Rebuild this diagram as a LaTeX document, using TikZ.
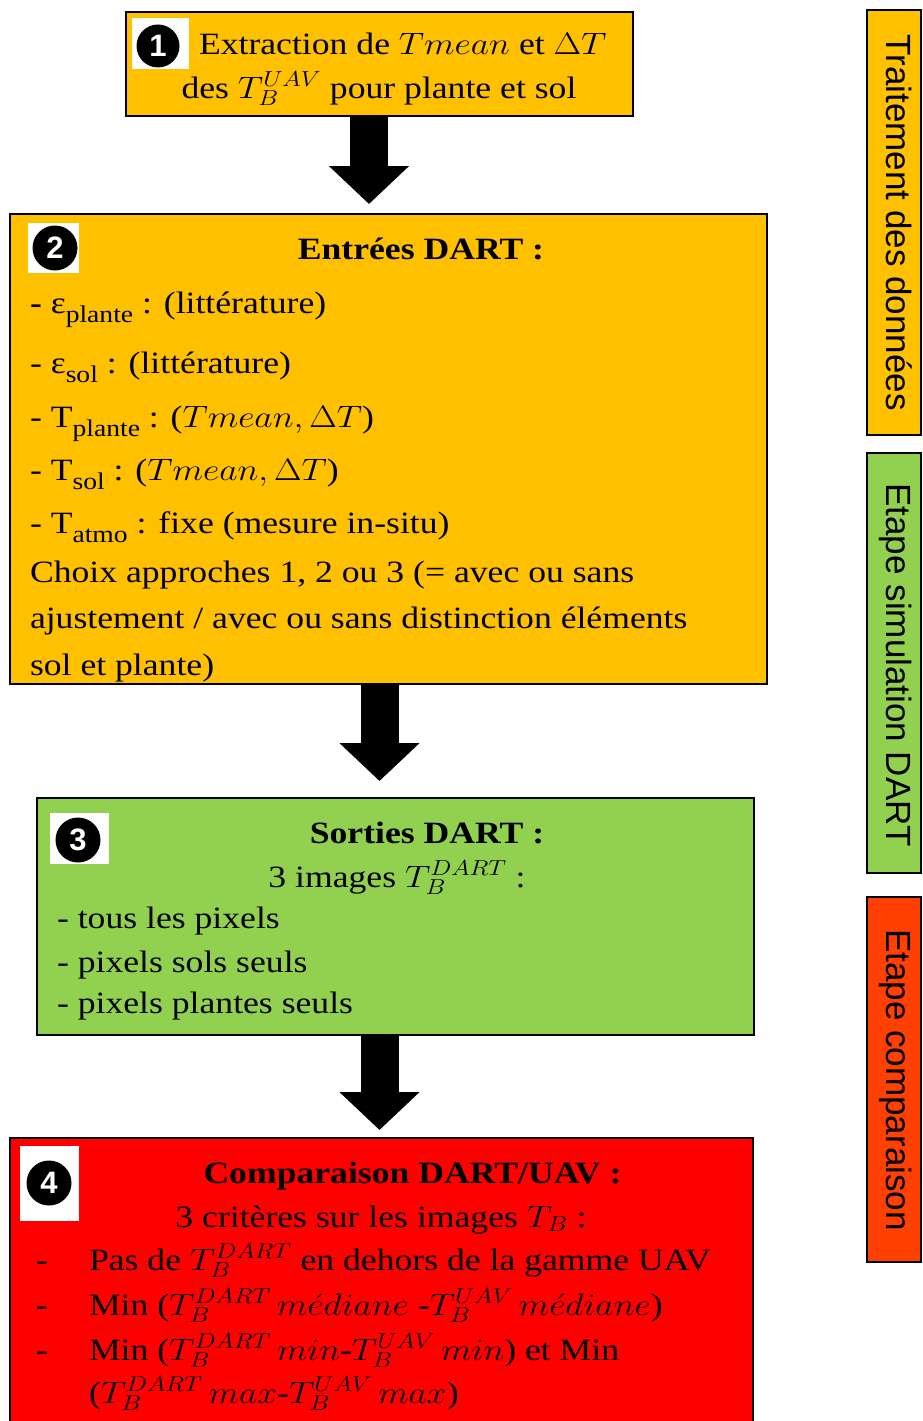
\RequirePackage{fix-cm}
\documentclass[tikz,border=0pt]{standalone}
\usepackage{fontspec}
\setmainfont{Liberation Serif}
\newfontfamily\sidefont{Liberation Sans}
\usepackage{graphicx}
\usetikzlibrary{arrows.meta}
\definecolor{cyellow}{HTML}{FFC000}
\definecolor{cgreen}{HTML}{92D050}
\definecolor{cred}{HTML}{FF0000}
\definecolor{corange}{HTML}{FF4000}
\newcommand\hsc[1]{\scalebox{1.15}[1]{#1}}
\newcommand\lowsub[1]{\raisebox{-0.3em}{\fontsize{24}{24}\selectfont #1}}
\begin{document}
\begin{tikzpicture}[x=1pt,y=-1pt,
  box/.style={draw=black, line width=2.5pt, inner sep=0pt, outer sep=0pt},
  sidebox/.style={draw=black, line width=1.8pt, inner sep=0pt, outer sep=0pt, minimum width=54pt},
  txt/.style={inner sep=0pt, outer sep=0pt, font=\fontsize{31}{37}\selectfont, text=black},
  lft/.style={txt, anchor=base west},
  ctr/.style={txt, anchor=base},
  sidetxt/.style={inner sep=0pt, font=\sidefont\fontsize{35}{40}\selectfont, rotate=-90, anchor=base},
  badgebg/.style={fill=white, inner sep=0pt, outer sep=0pt},
  badge/.style={circle, fill=black, inner sep=0pt, text=white, font=\sidefont\bfseries\fontsize{31}{31}\selectfont},
  bigarrow/.style={line width=38pt, -{Triangle[width=78pt,length=38pt]}}
]
\useasboundingbox (0,0) rectangle (923,1421);

% main boxes
\node[box, fill=cyellow, minimum width=507pt, minimum height=104pt] (b1) at (379.5,64) {};
\node[box, fill=cyellow, minimum width=757pt, minimum height=470pt] (b2) at (388.5,449) {};
\node[box, fill=cgreen, minimum width=717pt, minimum height=237pt] (b3) at (395.5,916.5) {};
\node[box, fill=cred, minimum width=743pt, minimum height=302pt] (b4) at (381.5,1289) {};

% arrows
\coordinate (a1) at (369,0);
\coordinate (a2) at (379.5,0);
\draw[bigarrow] (b1.south -| a1) -- ([yshift=10pt]b2.north -| a1);
\draw[bigarrow] (b2.south -| a2) -- ([yshift=17pt]b3.north -| a2);
\draw[bigarrow] (b3.south -| a2) -- ([yshift=8pt]b4.north -| a2);

% side boxes
\node[sidebox, fill=cyellow, minimum height=425pt] (s1) at (894,222.5) {};
\node[sidebox, fill=cgreen, minimum height=420pt] (s2) at (894,663) {};
\node[sidebox, fill=corange, minimum height=365pt] (s3) at (894,1079.5) {};
\node[sidetxt] (s1t) at (886,222.5) {Traitement des données};
\node[sidetxt] (s2t) at (886,665) {Etape simulation DART};
\node[sidetxt] (s3t) at (886,1080) {Etape comparaison};

% badges
\node[badgebg, minimum width=57pt, minimum height=51pt] (g1) at (160.5,43.5) {};
\node[badge, minimum size=43pt] (n1) at (158,46) {1};
\node[badgebg, minimum width=51pt, minimum height=50pt] (g2) at (53.5,248) {};
\node[badge, minimum size=45pt] (n2) at (55,248) {2};
\node[badgebg, minimum width=59pt, minimum height=51pt] (g3) at (79.5,838.5) {};
\node[badge, minimum size=45pt] (n3) at (78,840) {3};
\node[badgebg, minimum width=59pt, minimum height=75pt] (g4) at (49.5,1183.5) {};
\node[badge, minimum size=45pt] (n4) at (49,1183) {4};

% box 1 text
\node[lft] (t1a) at (199,55) {\hsc{Extraction de $Tmean$ et $\Delta T$}};
\node[ctr] (t1b) at (379,98) {\hsc{des $T_B^{UAV}$ pour plante et sol}};

% box 2 text
\node[ctr] (t2h) at (421,259) {\hsc{\bfseries Entrées DART :}};
\node[lft] (t2a) at (30,313) {\hsc{\textbf{-} ε\lowsub{plante} : (littérature)}};
\node[lft] (t2b) at (30,373) {\hsc{- ε\lowsub{sol} : (littérature)}};
\node[lft] (t2c) at (30,427) {\hsc{- T\lowsub{plante} : ($Tmean, \Delta T$)}};
\node[lft] (t2d) at (30,480) {\hsc{- T\lowsub{sol} : ($Tmean, \Delta T$)}};
\node[lft] (t2e) at (30,533) {\hsc{- T\lowsub{atmo} : fixe (mesure in-situ)}};
\node[lft] (t2f) at (30,582) {\hsc{Choix approches 1, 2 ou 3 (= avec ou sans}};
\node[lft] (t2g) at (30,628) {\hsc{ajustement / avec ou sans distinction éléments}};
\node[lft] (t2i) at (30,675) {\hsc{sol et plante)}};

% box 3 text
\node[ctr] (t3h) at (427,843) {\hsc{\bfseries Sorties DART :}};
\node[ctr] (t3s) at (397,887) {\hsc{3 images $T_B^{DART}$ :}};
\node[lft] (t3a) at (57,928) {\hsc{- tous les pixels}};
\node[lft] (t3b) at (57,972) {\hsc{- pixels sols seuls}};
\node[lft] (t3c) at (57,1013) {\hsc{- pixels plantes seuls}};

% box 4 text
\node[ctr] (t4h) at (412.5,1183) {\hsc{\bfseries Comparaison DART/UAV :}};
\node[ctr] (t4s) at (381,1227) {\hsc{3 critères sur les images $T_B$ :}};
\node[lft] (d4a) at (36,1270) {\hsc{-}};
\node[lft] (d4b) at (36,1315) {\hsc{-}};
\node[lft] (d4c) at (36,1360) {\hsc{-}};
\node[lft] (t4a) at (89,1270) {\hsc{Pas de $T_B^{DART}$ en dehors de la gamme UAV}};
\node[lft] (t4b) at (89,1315) {\hsc{Min ($T_B^{DART}\,m\acute{e}diane$ -$T_B^{UAV}\,m\acute{e}diane$)}};
\node[lft] (t4c) at (89,1360) {\hsc{Min ($T_B^{DART}\,min$-$T_B^{UAV}\,min$) et Min}};
\node[lft] (t4d) at (89,1403) {\hsc{($T_B^{DART}\,max$-$T_B^{UAV}\,max$)}};
\end{tikzpicture}
\end{document}
